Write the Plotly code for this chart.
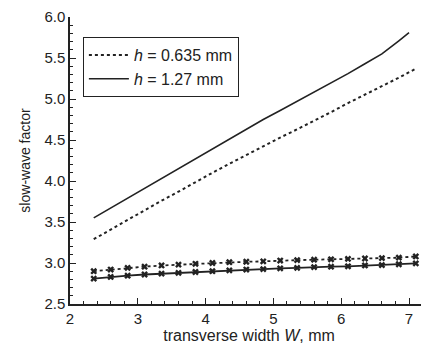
import plotly.graph_objects as go

# data
w_grid = [2.35, 2.6, 2.85, 3.1, 3.35, 3.6, 3.85, 4.1, 4.35, 4.6,
          4.85, 5.1, 5.35, 5.6, 5.85, 6.1, 6.35, 6.6, 6.85, 7.1]
w_solid_upper = [2.35, 2.6, 2.85, 3.1, 3.35, 3.6, 3.85, 4.1, 4.35, 4.6,
                 4.85, 5.1, 5.35, 5.6, 5.85, 6.1, 6.35, 6.6, 6.85, 7.0]
upper_h0635 = [3.29, 3.41, 3.53, 3.65, 3.76, 3.87, 3.99, 4.10, 4.21, 4.32,
               4.42, 4.53, 4.63, 4.73, 4.84, 4.95, 5.05, 5.16, 5.26, 5.37]
upper_h127 = [3.55, 3.67, 3.80, 3.92, 4.04, 4.16, 4.28, 4.40, 4.52, 4.64,
              4.75, 4.86, 4.97, 5.09, 5.20, 5.31, 5.43, 5.55, 5.71, 5.81]
lower_h0635 = [2.90, 2.92, 2.94, 2.955, 2.97, 2.98, 2.99, 3.00, 3.01, 3.015,
               3.02, 3.03, 3.035, 3.04, 3.045, 3.05, 3.055, 3.06, 3.065, 3.08]
lower_h127 = [2.81, 2.83, 2.845, 2.86, 2.87, 2.88, 2.89, 2.90, 2.91, 2.92,
              2.925, 2.935, 2.94, 2.95, 2.955, 2.96, 2.97, 2.975, 2.985, 2.995]

x_ticks = [2, 3, 4, 5, 6, 7]
y_ticks = [2.5, 3.0, 3.5, 4.0, 4.5, 5.0, 5.5, 6.0]
y_tick_text = ["2.5", "3.0", "3.5", "4.0", "4.5", "5.0", "5.5", "6.0"]

FONT = "Liberation Sans, Arial, sans-serif"
INK = "#222222"

fig = go.Figure()
fig.add_trace(go.Scatter(x=w_grid, y=upper_h0635, mode="lines",
                         line=dict(color=INK, width=2, dash="dot"),
                         name="<i>h</i> = 0.635 mm"))
fig.add_trace(go.Scatter(x=w_solid_upper, y=upper_h127, mode="lines",
                         line=dict(color=INK, width=1.6),
                         name="<i>h</i> = 1.27 mm"))
fig.add_trace(go.Scatter(x=w_grid, y=lower_h0635, mode="lines+markers",
                         line=dict(color=INK, width=1.8, dash="3px,3px"),
                         marker=dict(symbol="x", size=6, color=INK),
                         showlegend=False))
fig.add_trace(go.Scatter(x=w_grid, y=lower_h127, mode="lines+markers",
                         line=dict(color=INK, width=1.8),
                         marker=dict(symbol="x", size=6, color=INK),
                         showlegend=False))

# the page body has an 8px margin, so the figure is sized to fit the window
fig.update_layout(
    width=421, height=342,
    margin=dict(l=62, r=1, t=9, b=46),
    paper_bgcolor="white", plot_bgcolor="white",
    font=dict(family=FONT, size=15, color=INK),
    legend=dict(x=0.036, y=0.93, xanchor="left", yanchor="top",
                bordercolor=INK, borderwidth=1, bgcolor="white",
                font=dict(size=16), itemwidth=40,
                tracegroupgap=0),
)
fig.update_xaxes(range=[2, 7.28], tickvals=x_ticks, ticktext=[str(v) for v in x_ticks],
                 automargin=False, ticklabeloverflow="allow",
                 showline=True, linecolor=INK, linewidth=1.5, mirror=False,
                 ticks="inside", ticklen=6, tickwidth=1.2, tickcolor=INK,
                 showgrid=False, zeroline=False,
                 tickfont=dict(size=15),
                 minor=dict(ticks="inside", dtick=0.2, tick0=2, ticklen=3,
                            tickwidth=1, tickcolor=INK, showgrid=False),
                 title=dict(text="transverse width <i>W</i>, mm", font=dict(size=16), standoff=4))
fig.update_yaxes(range=[2.5, 6.0], tickvals=y_ticks, ticktext=y_tick_text,
                 automargin=False, ticklabeloverflow="allow",
                 showline=True, linecolor=INK, linewidth=1.5, mirror=False,
                 ticks="inside", ticklen=6, tickwidth=1.2, tickcolor=INK,
                 showgrid=False, zeroline=False,
                 tickfont=dict(size=15),
                 minor=dict(ticks="inside", dtick=0.1, tick0=2.5, ticklen=3,
                            tickwidth=1, tickcolor=INK, showgrid=False),
                 title=dict(text="slow-wave factor", font=dict(size=14), standoff=10))

fig.write_html("out.html")
